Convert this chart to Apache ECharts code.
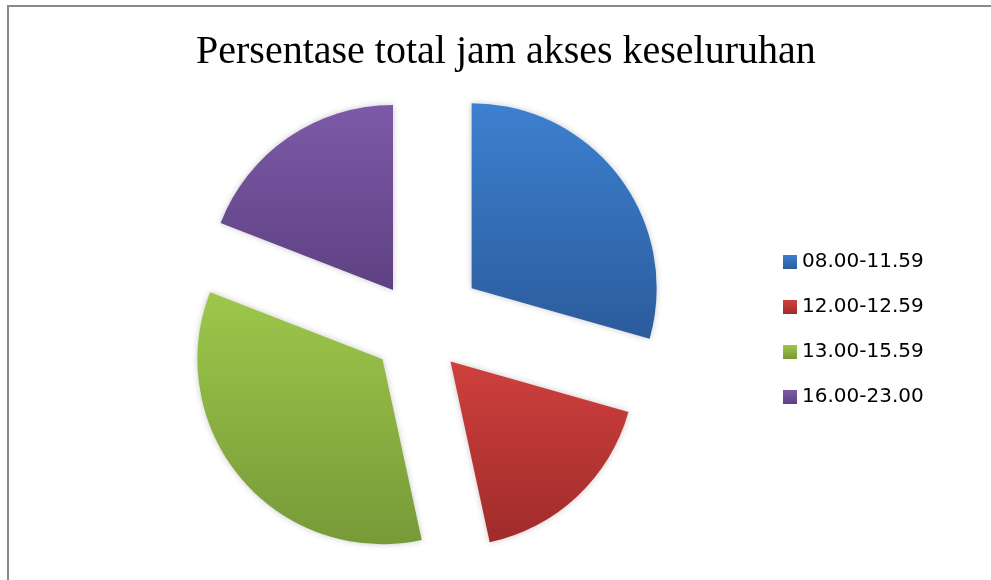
<!DOCTYPE html>
<html>
<head>
<meta charset="utf-8">
<style>
  html, body { margin: 0; padding: 0; background: #ffffff; }
  #chart { width: 991px; height: 580px; }
</style>
<script src="https://cdn.jsdelivr.net/npm/echarts@6/dist/echarts.min.js"></script>
</head>
<body>
<div id="chart"></div>
<script>
// Share of total access hours per time band (percent)
const categories = ['08.00-11.59', '12.00-12.59', '13.00-15.59', '16.00-23.00'];
const shares = [29.4, 17.2, 34.3, 19.1];
// Top / bottom shades of each slice's vertical gradient
const topColors = ['#3d80d0', '#cf403e', '#9dc74b', '#7d5aa8'];
const bottomColors = ['#2b5c9c', '#9f2b2a', '#779a38', '#5e4182'];
// How far each slice is pulled out of the pie, in pixels
const explode = [66, 46, 48, 46];

const chart = echarts.init(document.getElementById('chart'), null, { renderer: 'canvas' });

function gradient(i) {
  return new echarts.graphic.LinearGradient(0, 0, 0, 1, [
    { offset: 0, color: topColors[i] },
    { offset: 1, color: bottomColors[i] }
  ]);
}

// Every slice gets its own explosion distance, so each one is drawn by a
// pie series that lays out the full data set but paints only that slice.
const pieSeries = categories.map((_, k) => ({
  type: 'pie',
  center: [419, 328],
  radius: [0, 185],
  startAngle: 90,
  clockwise: true,
  selectedMode: 'multiple',
  selectedOffset: explode[k],
  silent: true,
  label: { show: false },
  labelLine: { show: false },
  emphasis: { disabled: true },
  data: categories.map((name, i) => ({
    name: name,
    value: shares[i],
    selected: true,
    itemStyle: i === k
      ? { color: gradient(i), borderWidth: 0, shadowBlur: 6, shadowColor: 'rgba(0,0,0,0.22)' }
      : { color: 'rgba(0,0,0,0)', borderWidth: 0, shadowBlur: 0 }
  }))
}));

chart.setOption({
  animation: false,
  backgroundColor: '#ffffff',
  graphic: [{
    type: 'rect',
    shape: { x: 8, y: 6, width: 1100, height: 700 },
    style: { fill: 'none', stroke: '#8a8a8a', lineWidth: 2 },
    silent: true,
    z: -1
  }],
  title: {
    text: 'Persentase total jam akses keseluruhan',
    left: 196,
    top: 32,
    padding: 0,
    textStyle: {
      fontFamily: '"Liberation Serif", "DejaVu Serif", serif',
      fontSize: 40,
      fontWeight: 'normal',
      color: '#000000'
    }
  },
  legend: {
    orient: 'vertical',
    left: 783,
    top: 252,
    padding: 0,
    itemWidth: 14,
    itemHeight: 14,
    itemGap: 25,
    icon: 'rect',
    selectedMode: false,
    data: categories.map((name, i) => ({ name: name, itemStyle: { color: gradient(i) } })),
    textStyle: {
      fontFamily: '"DejaVu Sans", sans-serif',
      fontSize: 20,
      lineHeight: 20,
      color: '#000000',
      padding: [0, 0, 0, 0]
    }
  },
  series: pieSeries
});
</script>
</body>
</html>
